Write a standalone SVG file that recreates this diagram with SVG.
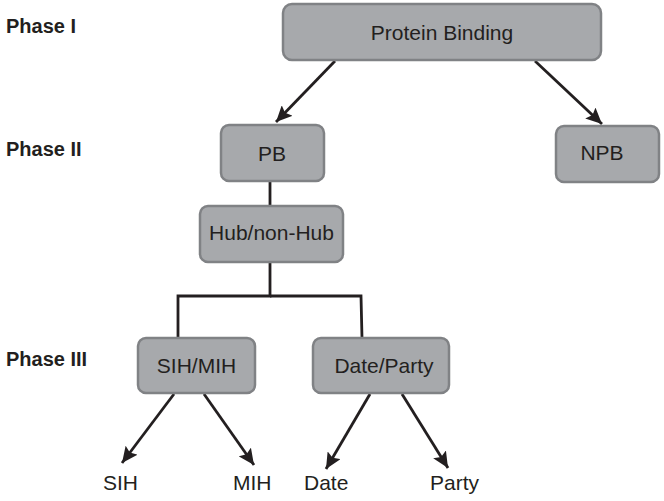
<svg xmlns="http://www.w3.org/2000/svg" width="664" height="501" viewBox="0 0 664 501">
<style>
.box{fill:#a7a9ac;stroke:#808285;stroke-width:2.5}
.t{font-family:"Liberation Sans",Arial,sans-serif;font-size:21px;fill:#231f20;text-anchor:middle}
.ph{font-family:"Liberation Sans",Arial,sans-serif;font-size:20px;font-weight:bold;fill:#231f20}
.c{stroke:#231f20;stroke-width:2.8;fill:none}
.a{stroke:#231f20;stroke-width:2.8;fill:none;marker-end:url(#ah)}
.lb{font-family:"Liberation Sans",Arial,sans-serif;font-size:21px;fill:#231f20}
</style>
<defs>
<marker id="ah" markerUnits="userSpaceOnUse" markerWidth="17" markerHeight="15" refX="16" refY="7.5" orient="auto">
<path d="M0,0 L16,7.5 L0,15 L3,7.5 z" fill="#231f20"/>
</marker>
</defs>
<rect width="664" height="501" fill="#fff"/>
<g id="phases">
<text class="ph" x="6" y="33">Phase I</text>
<text class="ph" x="6" y="156">Phase II</text>
<text class="ph" x="6" y="366">Phase III</text>
</g>
<g id="connectors">
<line class="a" x1="335" y1="61" x2="276" y2="122"/>
<line class="a" x1="535" y1="61" x2="602" y2="124"/>
<line class="c" x1="270" y1="181" x2="270" y2="206"/>
<polyline class="c" points="270,262 270,296 178,296 178,338"/>
<polyline class="c" points="270,296 361,296 362,338"/>
<line class="a" x1="174" y1="394" x2="122" y2="463"/>
<line class="a" x1="204" y1="394" x2="254" y2="465"/>
<line class="a" x1="370" y1="394" x2="326" y2="469"/>
<line class="a" x1="402" y1="394" x2="448" y2="468"/>
</g>
<g id="protein-binding">
<rect class="box" x="283" y="4" width="318" height="56" rx="9"/>
<text class="t" x="442" y="40">Protein Binding</text>
</g>
<g id="pb">
<rect class="box" x="221" y="125" width="103" height="56" rx="8"/>
<text class="t" x="272" y="161">PB</text>
</g>
<g id="npb">
<rect class="box" x="556" y="126" width="103" height="56" rx="8"/>
<text class="t" x="602" y="160">NPB</text>
</g>
<g id="hub">
<rect class="box" x="200" y="206" width="143" height="56" rx="8"/>
<text class="t" x="271.5" y="240">Hub/non-Hub</text>
</g>
<g id="sih-mih">
<rect class="box" x="138" y="338" width="117" height="55" rx="8"/>
<text class="t" x="196.5" y="373">SIH/MIH</text>
</g>
<g id="date-party">
<rect class="box" x="313" y="338" width="136" height="55" rx="8"/>
<text class="t" x="384" y="373">Date/Party</text>
</g>
<g id="leaves">
<text class="lb" x="103" y="490">SIH</text>
<text class="lb" x="233" y="490">MIH</text>
<text class="lb" x="304" y="490">Date</text>
<text class="lb" x="430" y="490">Party</text>
</g>
</svg>
